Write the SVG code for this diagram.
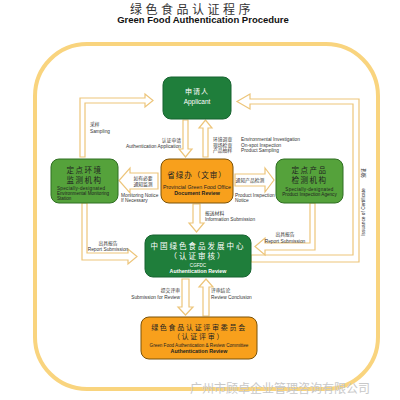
<svg xmlns="http://www.w3.org/2000/svg" width="400" height="400" viewBox="0 0 400 400">
<defs>
<style>
.zh{font-family:"Noto Sans CJK SC","Liberation Sans",sans-serif;}
.en{font-family:"Liberation Sans",Arial,sans-serif;}
.pipe{fill:#fff;stroke:#EDC57A;stroke-width:1.2;stroke-linejoin:miter;}
.dg{fill:#1F7E3B;stroke:#176330;stroke-width:1;}
.lg{fill:#55A23B;stroke:#2F6E22;stroke-width:1;}
.or{fill:#F8A01C;stroke:#7A5208;stroke-width:1;}
.lbl{font-size:4.8px;fill:#333;}
.w{fill:#fff;}
.k{fill:#222;}
</style>
</defs>
<rect width="400" height="400" fill="#fff"/>
<text class="zh" x="192" y="13.5" font-size="12" fill="#333" text-anchor="middle" letter-spacing="3.5">绿色食品认证程序</text>
<text class="en" x="203" y="23" font-size="9.5" font-weight="bold" fill="#111" text-anchor="middle">Green Food Authentication Procedure</text>
<rect x="35" y="44" width="343" height="345" rx="52" ry="52" fill="none" stroke="#F9D47E" stroke-width="4"/>
<g id="connectors">
<polygon class="pipe" points="80,157 80,98 145,98 145,94 153,100.5 145,107 145,103 85,103 85,157"/>
<polygon class="pipe" points="251,255 353,255 353,104 250,104 250,109 237,101.5 250,94 250,99 359,99 359,262 251,262"/>
<polygon class="pipe" points="82,203 82,260 128,260 128,264 137,256.5 128,249 128,253 87,253 87,203"/>
<polygon class="pipe" points="310,203 310,243 265,243 265,238 255,246.5 265,255 265,250 315,250 315,203"/>
<polygon class="pipe" points="183,120 188,120 188,149 192,149 185.5,157 179,149 183,149"/>
<polygon class="pipe" points="203,157 208,157 208,128 212,128 205.5,120 199,128 203,128"/>
<polygon class="pipe" points="193,204 200,204 200,223 204,223 196.5,232 189,223 193,223"/>
<polygon class="pipe" points="182,279 189,279 189,307 193,307 185.5,315 178,307 182,307"/>
<polygon class="pipe" points="203,316 209,316 209,287 213,287 206,279 199,287 203,287"/>
<polygon class="pipe" points="158,173 130,173 130,168 119,180.5 130,193 130,189 158,189"/>
<polygon class="pipe" points="235,174 265,174 265,168 274,180 265,192 265,186 235,186"/>
</g>
<g id="applicant">
<rect class="dg" x="163" y="77" width="68" height="42" rx="8"/>
<text class="zh w" x="197" y="94" font-size="7" text-anchor="middle" letter-spacing="1">申请人</text>
<text class="en w" x="197" y="104" font-size="6.5" text-anchor="middle">Applicant</text>
</g>
<g id="docreview">
<rect class="or" x="161" y="159" width="72" height="44" rx="8"/>
<text class="zh k" x="197" y="178" font-size="7.5" text-anchor="middle" letter-spacing="1">省绿办（文审）</text>
<text class="en k" x="197" y="189" font-size="5.3" text-anchor="middle">Provincial Green Food Office</text>
<text class="en k" x="197" y="195" font-size="5.3" font-weight="bold" text-anchor="middle">Document Review</text>
</g>
<g id="envstation">
<rect class="lg" x="51" y="159" width="67" height="44" rx="8"/>
<text class="zh k" x="84.5" y="173" font-size="7.5" text-anchor="middle" letter-spacing="1.5">定点环境</text>
<text class="zh k" x="84.5" y="183" font-size="7.5" text-anchor="middle" letter-spacing="1.5">监测机构</text>
<text class="en k" x="57" y="190" font-size="4.6" letter-spacing="0.3">Specially-designated</text>
<text class="en k" x="57" y="195" font-size="4.6">Environmental Monitoring</text>
<text class="en k" x="57" y="200" font-size="4.6">Station</text>
</g>
<g id="prodagency">
<rect class="lg" x="276" y="159" width="67" height="44" rx="8"/>
<text class="zh k" x="309.5" y="173" font-size="7.5" text-anchor="middle" letter-spacing="1.5">定点产品</text>
<text class="zh k" x="309.5" y="183" font-size="7.5" text-anchor="middle" letter-spacing="1.5">检测机构</text>
<text class="en k" x="309.5" y="191" font-size="4.6" text-anchor="middle" letter-spacing="0.3">Specially-designated</text>
<text class="en k" x="309.5" y="196" font-size="4.6" text-anchor="middle">Product Inspection Agency</text>
</g>
<g id="cgfdc">
<rect class="dg" x="145" y="235" width="106" height="42" rx="8"/>
<text class="zh w" x="198" y="249" font-size="7.5" text-anchor="middle" letter-spacing="2">中国绿色食品发展中心</text>
<text class="zh w" x="198" y="259" font-size="7.5" text-anchor="middle" letter-spacing="2">（认证审核）</text>
<text class="en w" x="198" y="267" font-size="4.6" text-anchor="middle">CGFDC</text>
<text class="en w" x="198" y="273" font-size="5.3" font-weight="bold" text-anchor="middle">Authentication Review</text>
</g>
<g id="committee">
<rect class="or" x="141" y="317" width="116" height="42" rx="8"/>
<text class="zh k" x="199" y="329.5" font-size="7" text-anchor="middle" letter-spacing="1.7">绿色食品认证评审委员会</text>
<text class="zh k" x="199" y="339" font-size="7" text-anchor="middle" letter-spacing="1.7">（认证评审）</text>
<text class="en k" x="199" y="347" font-size="4.6" text-anchor="middle">Green Food Authentication &amp; Review Committee</text>
<text class="en k" x="199" y="353" font-size="5.3" font-weight="bold" text-anchor="middle">Authentication Review</text>
</g>
<g id="labels">
<text class="zh lbl" x="90" y="126">采样</text>
<text class="en lbl" x="90" y="133">Sampling</text>
<text class="zh lbl" x="181" y="142" text-anchor="end">认证申请</text>
<text class="en lbl" x="181" y="148" text-anchor="end">Authentication Application</text>
<text class="zh lbl" x="213" y="141">环境调查</text>
<text class="zh lbl" x="213" y="146.5">现场检查</text>
<text class="zh lbl" x="213" y="152">产品抽样</text>
<text class="en lbl" x="241" y="141">Environmental Investigation</text>
<text class="en lbl" x="241" y="146.5">On-spot Inspection</text>
<text class="en lbl" x="241" y="152">Product Sampling</text>
<text class="zh lbl" x="143" y="180" text-anchor="middle">如有必要</text>
<text class="zh lbl" x="143" y="186" text-anchor="middle">通知监测</text>
<text class="en lbl" x="121" y="197">Monitoring Notice</text>
<text class="en lbl" x="121" y="202">If Necessary</text>
<text class="zh lbl" x="250" y="182" text-anchor="middle">通知产品检测</text>
<text class="en lbl" x="235" y="197">Product Inspection</text>
<text class="en lbl" x="235" y="202">Notice</text>
<text class="zh lbl" x="205" y="215">报送材料</text>
<text class="en lbl" x="205" y="221">Information Submission</text>
<text class="zh lbl" x="108" y="245" text-anchor="middle">出具报告</text>
<text class="en lbl" x="108" y="251" text-anchor="middle">Report Submission</text>
<text class="zh lbl" x="285" y="236" text-anchor="middle">出具报告</text>
<text class="en lbl" x="285" y="243" text-anchor="middle">Report Submission</text>
<text class="zh lbl" x="180" y="292" text-anchor="end">提交评审</text>
<text class="en lbl" x="180" y="299" text-anchor="end">Submission for Review</text>
<text class="zh lbl" x="211" y="292">评审结论</text>
<text class="en lbl" x="211" y="299">Review Conclusion</text>
<text class="zh lbl" transform="translate(365,173) rotate(-90)" text-anchor="middle">颁证</text>
<text class="en lbl" transform="translate(365,212) rotate(-90)" text-anchor="middle">Issuance of Certificate</text>
</g>
<text class="zh" x="190" y="393" font-size="12" fill="#C8C8C8">广州市顾卓企业管理咨询有限公司</text>
</svg>
